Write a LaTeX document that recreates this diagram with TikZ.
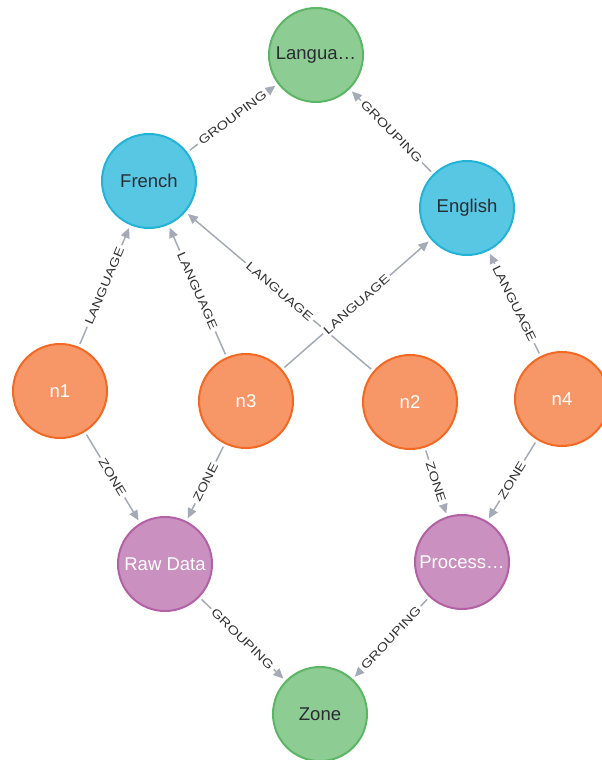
\documentclass[tikz,border=0pt]{standalone}
\usepackage{fontspec}
\setmainfont{Liberation Sans}
\newfontfamily\relfont[FakeStretch=1.25]{Liberation Sans}
\usetikzlibrary{arrows.meta}

\definecolor{greenfill}{HTML}{8DCC93}
\definecolor{greenline}{HTML}{5DB665}
\definecolor{bluefill}{HTML}{57C7E3}
\definecolor{blueline}{HTML}{23B3D7}
\definecolor{orangefill}{HTML}{F79767}
\definecolor{orangeline}{HTML}{F36924}
\definecolor{purplefill}{HTML}{C990C0}
\definecolor{purpleline}{HTML}{B261A5}
\definecolor{darktext}{HTML}{2A2C34}
\definecolor{relgray}{HTML}{A5ABB6}
\definecolor{reltext}{HTML}{333333}

\tikzset{
  gnode/.style={circle, minimum size=94pt, inner sep=0pt, line width=2pt,
    font=\fontsize{18.5}{20}\selectfont},
  groupnode/.style={gnode, fill=greenfill, draw=greenline, text=darktext},
  langnode/.style={gnode, fill=bluefill, draw=blueline, text=darktext},
  itemnode/.style={gnode, fill=orangefill, draw=orangeline, text=white},
  zonenode/.style={gnode, fill=purplefill, draw=purpleline, text=white},
  rel/.style={draw=relgray, line width=1.5pt,
    -{Triangle[length=10pt,width=9pt]}, shorten >=3pt, shorten <=3pt},
  rlabel/.style={midway, sloped, fill=white, inner sep=2.5pt, text=reltext,
    font=\relfont\fontsize{12}{13}\selectfont}
}

\begin{document}
\begin{tikzpicture}[x=1pt, y=-1pt]
\useasboundingbox (0,0) rectangle (602,760);

% nodes
\node[groupnode] (lang)    at (316,55)  {Langua…};
\node[langnode]  (french)  at (149,181) {French};
\node[langnode]  (english) at (467,208) {English};
\node[itemnode]  (n1)      at (60,391)  {n1};
\node[itemnode]  (n3)      at (246,401) {n3};
\node[itemnode]  (n2)      at (410,402) {n2};
\node[itemnode]  (n4)      at (562,399) {n4};
\node[zonenode]  (raw)     at (165,564) {Raw Data};
\node[zonenode]  (proc)    at (462,562) {Process…};
\node[groupnode] (zone)    at (320,714) {Zone};

% relationships
\draw[rel] (french)  -- node[rlabel] {GROUPING} (lang);
\draw[rel] (english) -- node[rlabel] {GROUPING} (lang);
\draw[rel] (n1) -- node[rlabel] {LANGUAGE} (french);
\draw[rel] (n3) -- node[rlabel] {LANGUAGE} (french);
\draw[rel] (n2) -- node[rlabel] {LANGUAGE} (french);
\draw[rel] (n3) -- node[rlabel] {LANGUAGE} (english);
\draw[rel] (n4) -- node[rlabel] {LANGUAGE} (english);
\draw[rel] (n1) -- node[rlabel] {ZONE} (raw);
\draw[rel] (n3) -- node[rlabel] {ZONE} (raw);
\draw[rel] (n2) -- node[rlabel] {ZONE} (proc);
\draw[rel] (n4) -- node[rlabel] {ZONE} (proc);
\draw[rel] (raw)  -- node[rlabel] {GROUPING} (zone);
\draw[rel] (proc) -- node[rlabel] {GROUPING} (zone);
\end{tikzpicture}
\end{document}
